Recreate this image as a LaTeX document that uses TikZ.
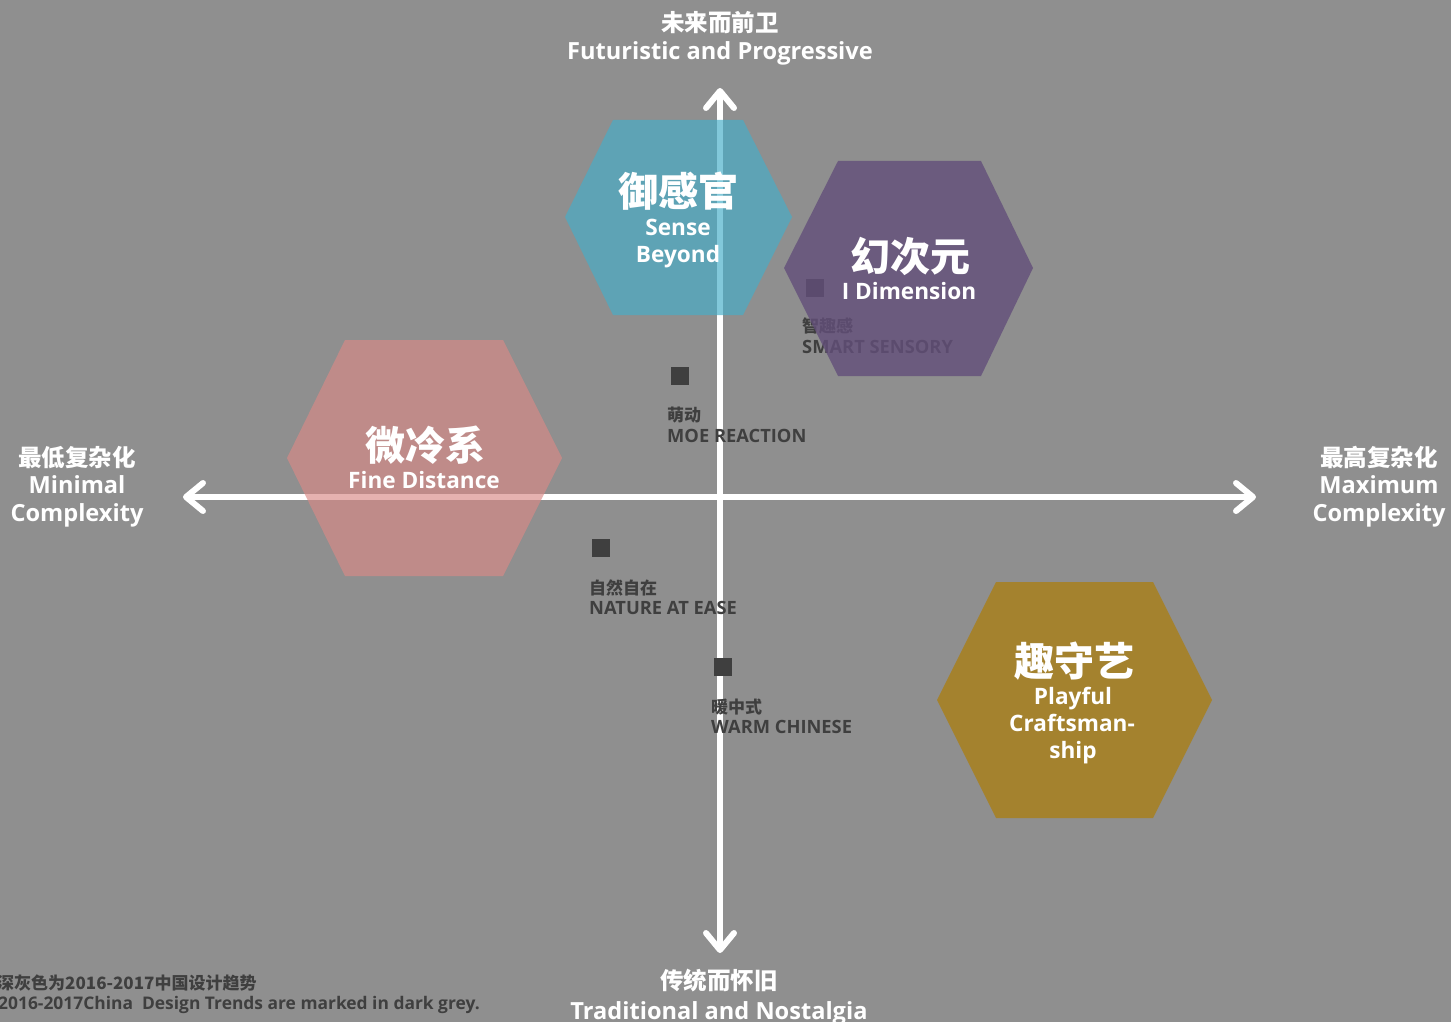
\documentclass[tikz,border=0pt]{standalone}
\usepackage{fontspec}
\setmainfont{Open Sans}
\newfontfamily\cjk{Noto Sans CJK SC}
\usetikzlibrary{arrows.meta}
\definecolor{bgc}{HTML}{8F8F8F}
\definecolor{darkc}{HTML}{3F3F3F}
\definecolor{bluec}{RGB}{70,173,200}
\definecolor{purplec}{RGB}{99,79,122}
\definecolor{pinkc}{RGB}{218,137,134}
\definecolor{goldc}{RGB}{164,130,46}
\begin{document}
\begin{tikzpicture}[x=1pt,y=-1pt,
  axisline/.style={white, line width=6pt,
    {Straight Barb[length=17pt,width=28pt,round]}-{Straight Barb[length=17pt,width=28pt,round]}},
  marker/.style={rectangle, fill=darkc, minimum size=18pt, inner sep=0pt},
  txt/.style={inner sep=0pt, anchor=base},
  zhhead/.style={txt, text=white, font=\cjk\bfseries\fontsize{40}{40}\selectfont},
  enhex/.style={txt, text=white, font=\bfseries\fontsize{22.6}{22.6}\selectfont},
  zhaxis/.style={txt, text=white, font=\cjk\bfseries\fontsize{23.5}{23.5}\selectfont},
  enaxis/.style={txt, text=white, font=\bfseries\fontsize{23.6}{23.6}\selectfont},
  zhmark/.style={txt, anchor=base west, text=darkc, font=\cjk\bfseries\fontsize{17}{17}\selectfont},
  enmark/.style={txt, anchor=base west, text=darkc, font=\bfseries\fontsize{18.3}{18.3}\selectfont},
  zhnote/.style={txt, anchor=base west, text=darkc, font=\cjk\bfseries\fontsize{17}{17}\selectfont},
  ennote/.style={txt, anchor=base west, text=darkc, font=\bfseries\fontsize{17.4}{17.4}\selectfont},
]
\useasboundingbox (0,0) rectangle (1451,1022);
\fill[bgc] (0,0) rectangle (1451,1022);

% axes
\coordinate (ytop) at (720,88);
\coordinate (ybot) at (720,953);
\coordinate (xleft) at (183,497);
\coordinate (xright) at (1256,497);
\draw[axisline] (ybot) -- (ytop);
\draw[axisline] (xleft) -- (xright);

% markers and labels
\node[marker] (moe) at (679.5,375.5) {};
\node[zhmark] (moezh) at (667,421.5) {萌动};
\node[enmark] (moeen) at (667,442) {MOE REACTION};

\node[marker] (nat) at (601,548) {};
\node[zhmark] (natzh) at (589,594.5) {自然自在};
\node[enmark] (naten) at (589,614) {NATURE AT EASE};

\node[marker] (warm) at (722.5,667) {};
\node[zhmark] (warmzh) at (711,713.5) {暖中式};
\node[enmark] (warmen) at (711,733) {WARM CHINESE};

\node[marker] (smart) at (814.5,287.5) {};
\node[zhmark] (smartzh) at (802,332.5) {智趣感};
\node[enmark] (smarten) at (802,353) {SMART SENSORY};

% hexagons
\fill[bluec, fill opacity=0.67] (565,217) -- (613,120) -- (743,120) -- (792,217) -- (743,315) -- (613,315) -- cycle;
\fill[purplec, fill opacity=0.8] (784,268) -- (838,161) -- (981,161) -- (1033,268) -- (981,376) -- (838,376) -- cycle;
\fill[pinkc, fill opacity=0.65] (287,458) -- (345,340) -- (503,340) -- (562,458) -- (503,576) -- (345,576) -- cycle;
\fill[goldc] (937,700) -- (996,582) -- (1153,582) -- (1212,700) -- (1153,818) -- (996,818) -- cycle;

% hexagon texts
\node[zhhead] (sbzh) at (678,206) {御感官};
\node[enhex] (sb1) at (678,235) {Sense};
\node[enhex] (sb2) at (678,262) {Beyond};

\node[zhhead] (idzh) at (910,271) {幻次元};
\node[enhex] (iden) at (909,299) {I Dimension};

\node[zhhead] (fdzh) at (425,460) {微冷系};
\node[enhex] (fden) at (424,488) {Fine Distance};

\node[zhhead] (pczh) at (1074,676) {趣守艺};
\node[enhex] (pc1) at (1073,704) {Playful};
\node[enhex] (pc2) at (1072,731) {Craftsman-};
\node[enhex] (pc3) at (1073,758) {ship};

% axis labels
\node[zhaxis] (topzh) at (720,32) {未来而前卫};
\node[enaxis] (topen) at (720,60) {Futuristic and Progressive};
\node[zhaxis] (botzh) at (719,989) {传统而怀旧};
\node[enaxis] (boten) at (719,1019) {Traditional and Nostalgia};
\node[zhaxis] (lzh) at (77,466) {最低复杂化};
\node[enaxis] (len1) at (77,493) {Minimal};
\node[enaxis] (len2) at (77,521) {Complexity};
\node[zhaxis] (rzh) at (1379,466) {最高复杂化};
\node[enaxis] (ren1) at (1379,493) {Maximum};
\node[enaxis] (ren2) at (1379,521) {Complexity};

% footnote
\node[zhnote] (notezh) at (-3,989.5) {深灰色为2016-2017中国设计趋势};
\node[ennote] (noteen) at (-2,1009) {2016-2017China\ \ Design Trends are marked in dark grey.};
\end{tikzpicture}
\end{document}
